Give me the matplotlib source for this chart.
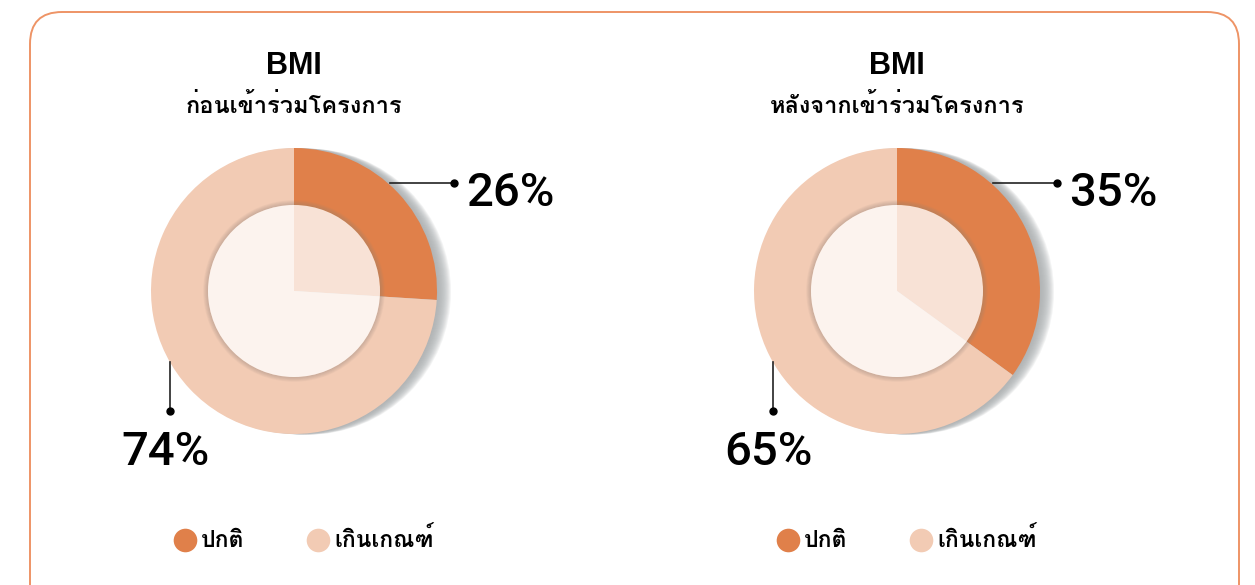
import matplotlib
matplotlib.use("Agg")
import matplotlib.pyplot as plt
from matplotlib import font_manager
from matplotlib.ft2font import FT2Font
from matplotlib.patches import Circle, Wedge, FancyBboxPatch

# data
titles = ["ก่อนเข้าร่วมโครงการ", "หลังจากเข้าร่วมโครงการ"]
normal = [26, 35]
over = [74, 65]
legend_labels = ["ปกติ", "เกินเกณฑ์"]
colors = ["#E0804A", "#F2CBB4"]

# find a font that has Thai glyphs (prefer one with a bold face)
thai = {}
for f in font_manager.fontManager.ttflist:
    try:
        if 0x0E01 in FT2Font(f.fname).get_charmap():
            w = f.weight if isinstance(f.weight, int) else 400
            thai.setdefault(f.name, set()).add(w)
    except Exception:
        pass
thai_font = None
for name, ws in thai.items():
    if max(ws) >= 600:
        thai_font = name
        break
if thai_font is None and thai:
    thai_font = list(thai)[0]
fams = ["Liberation Sans"] + ([thai_font] if thai_font else []) + ["DejaVu Sans"]
plt.rcParams['font.family'] = fams

W, H = 1255, 585
fig = plt.figure(figsize=(W / 100, H / 100), dpi=100)
ax = fig.add_axes([0, 0, 1, 0.999999])


def Y(y):
    return H - y


# rounded border
box = FancyBboxPatch((30, Y(620)), 1209, 608, boxstyle="round,pad=0,rounding_size=32",
                     fill=False, ec="#EE9466", lw=1.4)
ax.add_patch(box)

centers = [294, 897]
cy = 291
R = 143
r_in = 86

for i, cx in enumerate(centers):
    # drop shadow
    for k in range(14, 0, -1):
        ax.add_patch(Circle((cx + k, Y(cy + k * 0.05)), R, fc="#a9acae", ec="none",
                            alpha=0.13, zorder=1))
    ax.pie([normal[i], over[i]], colors=colors, startangle=90, counterclock=False,
           radius=R, center=(cx, Y(cy)), frame=True,
           wedgeprops=dict(linewidth=0, zorder=2))
    # inner soft edge + translucent center
    for k in range(6, 0, -1):
        ax.add_patch(Wedge((cx, Y(cy)), r_in + k * 0.8, 0, 360, width=k * 0.8,
                           fc="#8f807a", ec="none", alpha=0.07, zorder=3))
    ax.add_patch(Circle((cx, Y(cy)), r_in, fc="white", ec="none", alpha=0.78, zorder=4))

    # titles
    ax.text(cx, Y(66), "BMI", ha="center", va="center", fontsize=22, fontweight="bold")
    ax.text(cx, Y(106), titles[i], ha="center", va="center", fontsize=17, fontweight="bold")

    # leader for normal
    ax.plot([cx + 96, cx + 160], [Y(183), Y(183)], color="#222222", lw=1.2, zorder=5)
    ax.plot([cx + 160], [Y(183)], "o", color="black", ms=5, zorder=6)
    ax.text(cx + 172, Y(193), f"{normal[i]}%", ha="left", va="center", fontsize=34,
            family=["Roboto", "DejaVu Sans"], fontweight="medium")

    # leader for over
    ax.plot([cx - 124, cx - 124], [Y(362), Y(411)], color="#222222", lw=1.2, zorder=5)
    ax.plot([cx - 124], [Y(411)], "o", color="black", ms=5, zorder=6)
    ax.text(cx - 129, Y(452), f"{over[i]}%", ha="center", va="center", fontsize=34,
            family=["Roboto", "DejaVu Sans"], fontweight="medium")

    # legend
    lx = [cx - 109, cx + 24]
    for j in range(2):
        ax.plot([lx[j]], [Y(540)], "o", color=colors[j], ms=17, mec="none", zorder=5)
        ax.text(lx[j] + 16, Y(540), legend_labels[j], ha="left", va="center",
                fontsize=16.5, fontweight="bold")

ax.set_xlim(0, W)
ax.set_ylim(0, H)
ax.set_aspect("equal")
ax.axis("off")

fig.savefig("out.png", dpi=100, facecolor="white")
